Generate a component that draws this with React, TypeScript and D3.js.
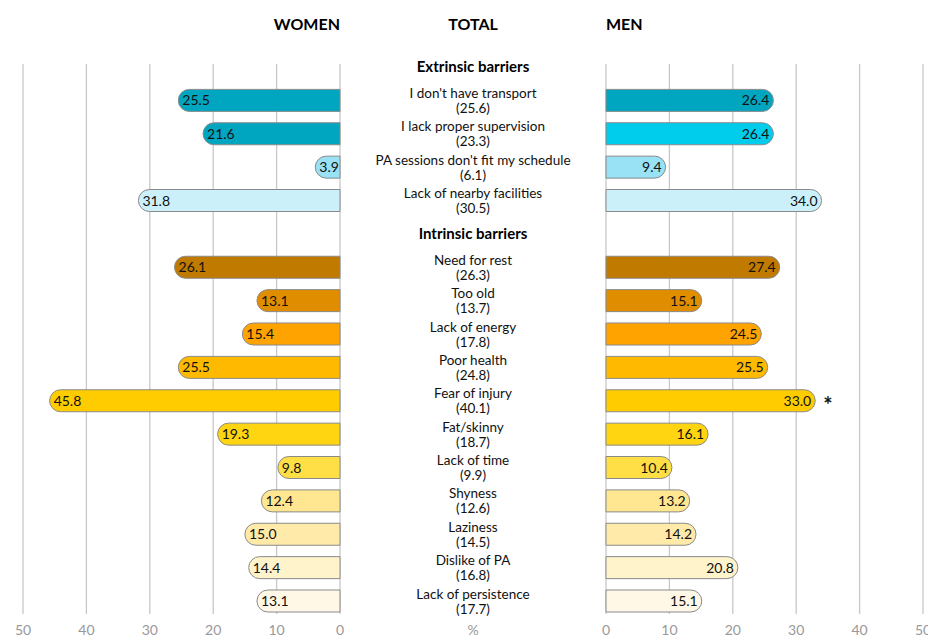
import React from 'react';
import * as d3 from 'd3';

// rows in display order; "group" rows are the section headers
const rowKeys = [
  'g1', 'transport', 'supervision', 'schedule', 'facilities',
  'g2', 'rest', 'old', 'energy', 'health', 'injury', 'fat', 'time', 'shy', 'lazy', 'dislike', 'persistence',
];
const groupTitles = { g1: 'Extrinsic barriers', g2: 'Intrinsic barriers' };

const barriers = ['transport', 'supervision', 'schedule', 'facilities', 'rest', 'old', 'energy', 'health', 'injury', 'fat', 'time', 'shy', 'lazy', 'dislike', 'persistence'];
const labels = [
  "I don't have transport", 'I lack proper supervision', "PA sessions don't fit my schedule", 'Lack of nearby facilities',
  'Need for rest', 'Too old', 'Lack of energy', 'Poor health', 'Fear of injury', 'Fat/skinny', 'Lack of time',
  'Shyness', 'Laziness', 'Dislike of PA', 'Lack of persistence',
];
const totalValues = [25.6, 23.3, 6.1, 30.5, 26.3, 13.7, 17.8, 24.8, 40.1, 18.7, 9.9, 12.6, 14.5, 16.8, 17.7];
const womenValues = [25.5, 21.6, 3.9, 31.8, 26.1, 13.1, 15.4, 25.5, 45.8, 19.3, 9.8, 12.4, 15.0, 14.4, 13.1];
const menValues = [26.4, 26.4, 9.4, 34.0, 27.4, 15.1, 24.5, 25.5, 33.0, 16.1, 10.4, 13.2, 14.2, 20.8, 15.1];
const significant = ['injury'];

const womenColors = ['#00a6c0', '#00a6c0', '#99e1f5', '#ccf0fa', '#c07a00', '#e08d00', '#fea300', '#ffba00', '#ffcc00', '#ffd410', '#ffdf45', '#ffe690', '#ffeaaa', '#fff3cc', '#fff8e6'];
const menColors = ['#00a6c0', '#00ccec', '#99e1f5', '#ccf0fa', '#c07a00', '#e08d00', '#fea300', '#ffba00', '#ffcc00', '#ffd410', '#ffdf45', '#ffe690', '#ffeaaa', '#fff3cc', '#fff8e6'];

const ticks = [0, 10, 20, 30, 40, 50];

const W = 928;
const H = 637;
const font = 'Lato, "Open Sans", sans-serif';

export default function App() {
  const xW = d3.scaleLinear().domain([0, 50]).range([340, 23]);
  const xM = d3.scaleLinear().domain([0, 50]).range([606, 923]);
  const y = d3.scalePoint().domain(rowKeys).range([67, 601]);
  const centerX = 473;
  const h = 22;
  const r = h / 2;

  // bars are square at zero and rounded at the outer end
  const womenPath = (v, cy) => {
    const x0 = xW(0), xl = xW(v);
    const y0 = cy - r, y1 = cy + r;
    return `M${x0},${y0}H${xl + r}A${r},${r} 0 0 0 ${xl + r},${y1}H${x0}Z`;
  };
  const menPath = (v, cy) => {
    const x0 = xM(0), xr = xM(v);
    const y0 = cy - r, y1 = cy + r;
    return `M${x0},${y0}H${xr - r}A${r},${r} 0 0 1 ${xr - r},${y1}H${x0}Z`;
  };

  const gridTop = 64;
  const gridBottom = 614;

  return (
    <svg width={W} height={H} style={{ position: 'absolute', left: 0, top: 0, background: '#fff' }} fontFamily={font}>
      {ticks.map(t => (
        <g key={'g' + t}>
          <line x1={xW(t)} x2={xW(t)} y1={gridTop} y2={gridBottom} stroke="#c8c8c8" strokeWidth={1.3} />
          <line x1={xM(t)} x2={xM(t)} y1={gridTop} y2={gridBottom} stroke="#c8c8c8" strokeWidth={1.3} />
          <text x={xW(t)} y={635} textAnchor="middle" fontSize={14} fill="#999">{t}</text>
          <text x={xM(t)} y={635} textAnchor="middle" fontSize={14} fill="#999">{t}</text>
        </g>
      ))}
      <text x={centerX} y={635} textAnchor="middle" fontSize={14} fill="#999">%</text>

      <text x={340} y={30} textAnchor="end" fontSize={16} fontWeight="bold">WOMEN</text>
      <text x={centerX} y={30} textAnchor="middle" fontSize={16} fontWeight="bold">TOTAL</text>
      <text x={606} y={30} textAnchor="start" fontSize={16} fontWeight="bold">MEN</text>

      {Object.entries(groupTitles).map(([k, t]) => (
        <text key={k} x={centerX} y={y(k) + 5} textAnchor="middle" fontSize={15} fontWeight="bold">{t}</text>
      ))}

      {barriers.map((b, i) => {
        const cy = y(b);
        return (
          <g key={b}>
            <path d={womenPath(womenValues[i], cy)} fill={womenColors[i]} stroke="#8a8a8a" strokeWidth={1} />
            <path d={menPath(menValues[i], cy)} fill={menColors[i]} stroke="#8a8a8a" strokeWidth={1} />
            <text x={xW(womenValues[i]) + 4} y={cy + 5} fontSize={14} fill="#111">{womenValues[i].toFixed(1)}</text>
            <text x={xM(menValues[i]) - 4} y={cy + 5} textAnchor="end" fontSize={14} fill="#111">{menValues[i].toFixed(1)}</text>
            <text x={centerX} y={cy - 2.5} textAnchor="middle" fontSize={13.5} fill="#111">{labels[i]}</text>
            <text x={centerX} y={cy + 12.5} textAnchor="middle" fontSize={13.5} fill="#111">({totalValues[i].toFixed(1)})</text>
            {significant.includes(b) && (
              <text x={xM(menValues[i]) + 8} y={cy + 12} fontSize={22} fontWeight="bold" fill="#111">*</text>
            )}
          </g>
        );
      })}
    </svg>
  );
}
